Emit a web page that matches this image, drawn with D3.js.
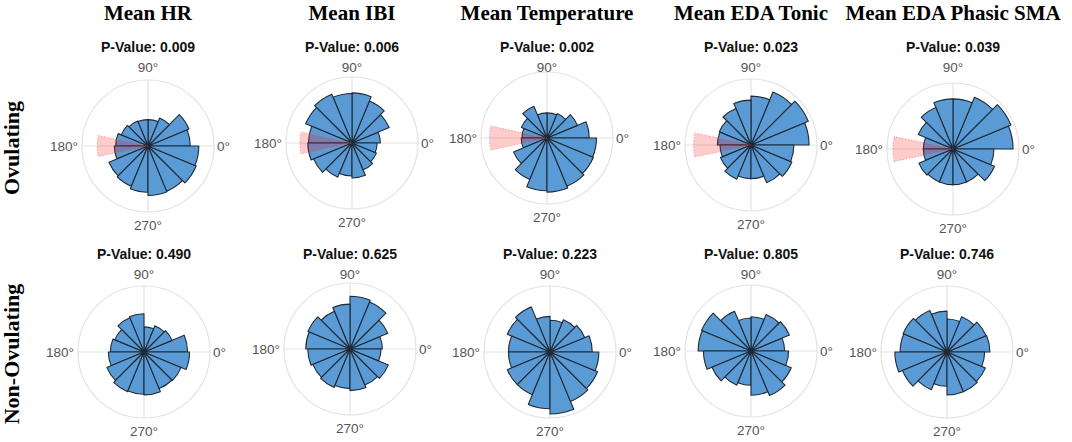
<!DOCTYPE html>
<html lang="en">
<head>
<meta charset="UTF-8">
<title>Circular histograms - ovulating vs non-ovulating</title>
<style>
  body { margin: 0; background: #fff; }
  svg { display: block; }
</style>
</head>
<body>
<script src="https://d3js.org/d3.v7.min.js"></script>
<div id="chart"></div>
<script>

// --- data ---
const measures = ["Mean HR", "Mean IBI", "Mean Temperature", "Mean EDA Tonic", "Mean EDA Phasic SMA"];
const groups = ["Ovulating", "Non-Ovulating"];

const pOvulating = ["0.009", "0.006", "0.002", "0.023", "0.039"];
const pNonOvulating = ["0.490", "0.625", "0.223", "0.805", "0.746"];

const binWidth = 22.5;   // 16 bins, degrees, counter-clockwise from 0°

// bar lengths (share of the outer ring), bins 0°..360°
const ovHR     = [0.64, 0.67, 0.46, 0.40, 0.40, 0.41, 0.44, 0.49, 0.51, 0.64, 0.66, 0.70, 0.75, 0.74, 0.79, 0.77];
const ovIBI    = [0.43, 0.61, 0.69, 0.76, 0.75, 0.80, 0.76, 0.66, 0.67, 0.63, 0.56, 0.50, 0.53, 0.44, 0.40, 0.38];
const ovTemp   = [0.64, 0.50, 0.40, 0.38, 0.38, 0.52, 0.42, 0.38, 0.39, 0.55, 0.68, 0.80, 0.82, 0.79, 0.76, 0.75];
const ovTonic  = [0.88, 0.94, 0.87, 0.74, 0.68, 0.60, 0.52, 0.51, 0.47, 0.50, 0.56, 0.51, 0.51, 0.62, 0.67, 0.65];
const ovPhasic = [0.91, 0.95, 0.85, 0.76, 0.76, 0.68, 0.57, 0.45, 0.45, 0.56, 0.54, 0.54, 0.54, 0.54, 0.68, 0.62];

const nonHR     = [0.66, 0.46, 0.43, 0.38, 0.58, 0.56, 0.48, 0.51, 0.54, 0.61, 0.65, 0.64, 0.65, 0.60, 0.61, 0.69];
const nonIBI    = [0.49, 0.62, 0.77, 0.80, 0.68, 0.62, 0.69, 0.67, 0.64, 0.61, 0.63, 0.60, 0.63, 0.59, 0.63, 0.47];
const nonTemp   = [0.64, 0.57, 0.53, 0.48, 0.54, 0.74, 0.70, 0.63, 0.63, 0.70, 0.70, 0.86, 0.94, 0.81, 0.78, 0.74];
const nonTonic  = [0.51, 0.63, 0.60, 0.52, 0.50, 0.65, 0.81, 0.80, 0.72, 0.64, 0.56, 0.52, 0.67, 0.73, 0.66, 0.57];
const nonPhasic = [0.65, 0.64, 0.58, 0.50, 0.62, 0.68, 0.72, 0.71, 0.79, 0.73, 0.62, 0.52, 0.65, 0.65, 0.63, 0.57];

// red sector around 180° (ovulating only)
const sectorCenter = 180;
const sectorHalf = 12;
const sectorOv = [0.77, 0.79, 0.87, 0.87, 0.91];

const angleTicks = [0, 90, 180, 270];

// --- layout ---
const width = 1072, height = 442;
const R = 66;
const colX = [[148, 352, 547, 751, 953], [144, 350, 550, 751, 947]];
const rowY = [[146, 143, 138, 145, 149], [352, 349, 352, 351, 352]];
const titleY = [52, 259];

const valuesByRow = [
  [ovHR, ovIBI, ovTemp, ovTonic, ovPhasic],
  [nonHR, nonIBI, nonTemp, nonTonic, nonPhasic]
];
const pByRow = [pOvulating, pNonOvulating];

const svg = d3.select("#chart").append("svg")
  .attr("width", width)
  .attr("height", height);

// radial + angular scales (math angle, ccw from east -> d3 arc angle)
const r = d3.scaleLinear().domain([0, 1]).range([0, R]);
const theta = d3.scaleLinear().domain([0, 360]).range([Math.PI / 2, Math.PI / 2 - 2 * Math.PI]);

const wedge = d3.arc()
  .innerRadius(0)
  .outerRadius(d => r(d.v))
  .startAngle(d => theta(d.a1))
  .endAngle(d => theta(d.a0));

// column headers
svg.append("g").selectAll("text")
  .data(measures)
  .join("text")
  .attr("x", (d, i) => colX[0][i])
  .attr("y", 20)
  .attr("text-anchor", "middle")
  .style("font-family", "'Liberation Serif', 'Times New Roman', serif")
  .style("font-weight", "bold")
  .style("font-size", "21px")
  .text(d => d);

// row labels
groups.forEach((g, j) => {
  svg.append("text")
    .attr("transform", `translate(19,${rowY[j][0] + 2}) rotate(-90)`)
    .attr("text-anchor", "middle")
    .style("font-family", "'Liberation Serif', 'Times New Roman', serif")
    .style("font-weight", "bold")
    .style("font-size", "22px")
    .text(g);
});

valuesByRow.forEach((rowVals, j) => {
  rowVals.forEach((vals, i) => {
    const cx = colX[j][i], cy = rowY[j][i];

    svg.append("text")
      .attr("x", cx)
      .attr("y", titleY[j])
      .attr("text-anchor", "middle")
      .style("font-family", "'Liberation Sans', Arial, sans-serif")
      .style("font-weight", "bold")
      .style("font-size", "14px")
      .attr("fill", "#111")
      .text("P-Value: " + pByRow[j][i]);

    const g = svg.append("g").attr("transform", `translate(${cx},${cy})`);

    // grid
    g.append("circle")
      .attr("r", R)
      .attr("fill", "none")
      .attr("stroke", "#e3e3e3")
      .attr("stroke-width", 1.2);
    g.selectAll("line.grid")
      .data(angleTicks)
      .join("line")
      .attr("class", "grid")
      .attr("x1", 0).attr("y1", 0)
      .attr("x2", d => R * Math.cos(d * Math.PI / 180))
      .attr("y2", d => -R * Math.sin(d * Math.PI / 180))
      .attr("stroke", "#e3e3e3")
      .attr("stroke-width", 1.2);

    // bars
    const bins = vals.map((v, k) => ({ a0: k * binWidth, a1: (k + 1) * binWidth, v: v }));
    g.selectAll("path.bar")
      .data(bins)
      .join("path")
      .attr("class", "bar")
      .attr("d", wedge)
      .attr("fill", "#5b9bd5")
      .attr("stroke", "#1f2a36")
      .attr("stroke-width", 1.1)
      .attr("stroke-linejoin", "round");

    // red sector
    if (j === 0) {
      g.append("path")
        .attr("d", wedge({ a0: sectorCenter - sectorHalf, a1: sectorCenter + sectorHalf, v: sectorOv[i] }))
        .attr("fill", "rgba(255,0,0,0.2)")
        .attr("stroke", "rgba(240,80,80,0.45)")
        .attr("stroke-width", 1)
        .attr("stroke-dasharray", "1.5,1.5");
    }

    // angle labels (90° sits a fixed distance under the p-value title)
    const lab = g.append("g")
      .style("font-family", "'Liberation Sans', Arial, sans-serif")
      .style("font-size", "13.5px")
      .attr("fill", "#555");
    lab.append("text").attr("x", R + 3).attr("y", 0).attr("dy", "0.35em").attr("text-anchor", "start").text("0°");
    lab.append("text").attr("x", 0).attr("y", titleY[j] + 15 - cy).attr("dy", "0.35em").attr("text-anchor", "middle").text("90°");
    lab.append("text").attr("x", -R - 4).attr("y", 0).attr("dy", "0.35em").attr("text-anchor", "end").text("180°");
    lab.append("text").attr("x", 0).attr("y", R + 13).attr("dy", "0.35em").attr("text-anchor", "middle").text("270°");
  });
});

</script>
</body>
</html>
